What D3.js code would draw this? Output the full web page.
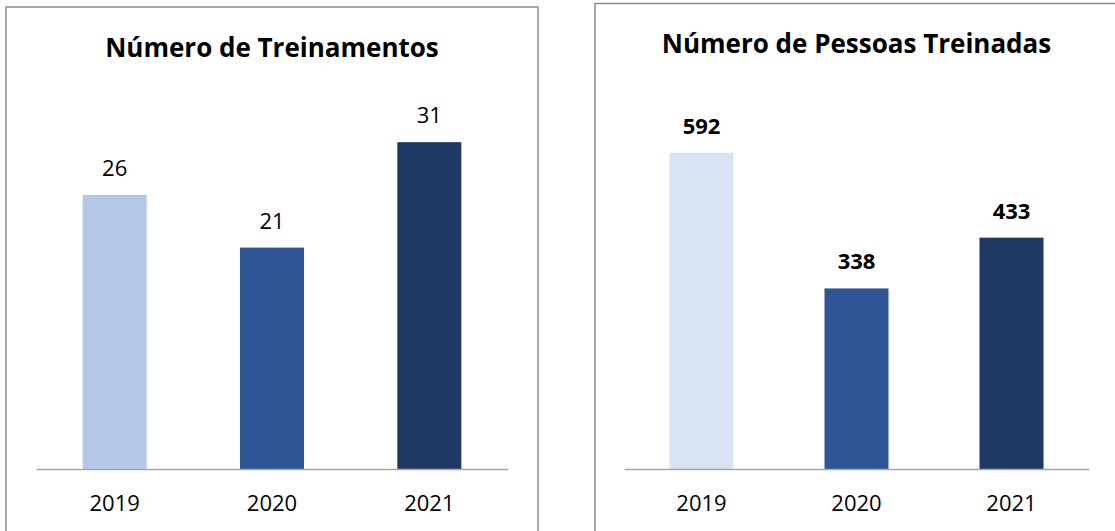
<!DOCTYPE html>
<html>
<head>
<meta charset="utf-8">
<script src="https://cdn.jsdelivr.net/npm/d3@7"></script>
<style>
  html, body { margin: 0; padding: 0; background: #fff; }
  svg { display: block; font-family: "Open Sans", sans-serif; }
</style>
</head>
<body>
<svg id="chart" width="1115" height="531"></svg>
<script>
// data
const years = ['2019', '2020', '2021'];
const treinamentos = [26, 21, 31];
const pessoas = [592, 338, 433];
const leftColors = ['#b4c7e7', '#2f5597', '#203864'];
const rightColors = ['#dae3f3', '#2f5597', '#203864'];

const svg = d3.select('#chart');

// one panel = border box + title + bars + value labels + year axis
function panel(opt) {
  const g = svg.append('g');

  g.append('rect')
    .attr('x', opt.box[0]).attr('y', opt.box[1])
    .attr('width', opt.box[2]).attr('height', opt.box[3])
    .attr('fill', '#fff').attr('stroke', '#8c8c8c').attr('stroke-width', 1.5);

  const x = d3.scaleBand().domain(years).range([opt.x0, opt.x1])
    .paddingInner(opt.pad).paddingOuter(opt.pad / 2);
  const y = d3.scaleLinear().domain([0, opt.max]).range([opt.base, opt.top]);

  g.append('text')
    .attr('x', (opt.x0 + opt.x1) / 2).attr('y', opt.titleY)
    .attr('text-anchor', 'middle')
    .attr('font-size', '26px').attr('font-weight', 700).attr('fill', '#000')
    .text(opt.title);

  g.selectAll('rect.bar').data(opt.values).join('rect')
    .attr('class', 'bar')
    .attr('x', (d, i) => x(years[i]))
    .attr('y', d => y(d))
    .attr('width', x.bandwidth())
    .attr('height', d => y(0) - y(d))
    .attr('fill', (d, i) => opt.colors[i]);

  g.selectAll('text.val').data(opt.values).join('text')
    .attr('class', 'val')
    .attr('x', (d, i) => x(years[i]) + x.bandwidth() / 2)
    .attr('y', d => y(d) - 19)
    .attr('text-anchor', 'middle')
    .attr('font-size', '22px')
    .attr('font-weight', opt.boldValues ? 700 : 400)
    .attr('fill', '#000')
    .text(d => d);

  const axis = g.append('g')
    .attr('transform', `translate(0,${opt.base})`)
    .call(d3.axisBottom(x).tickSize(0).tickPadding(26));
  axis.select('.domain').attr('stroke', '#a6a6a6').attr('stroke-width', 1.5);
  axis.selectAll('text')
    .attr('font-size', '22px').attr('font-family', '"Open Sans", sans-serif').attr('fill', '#000');
}

panel({
  box: [6, 7, 532, 540], x0: 36, x1: 508, base: 469, top: 100, max: 35 * 1,
  pad: 0.593, title: 'Número de Treinamentos', titleY: 57,
  values: treinamentos, colors: leftColors, boldValues: false
});

panel({
  box: [595, 3.5, 540, 540], x0: 624, x1: 1089, base: 469, top: 95, max: 700,
  pad: 0.587, title: 'Número de Pessoas Treinadas', titleY: 53,
  values: pessoas, colors: rightColors, boldValues: true
});
</script>
</body>
</html>
